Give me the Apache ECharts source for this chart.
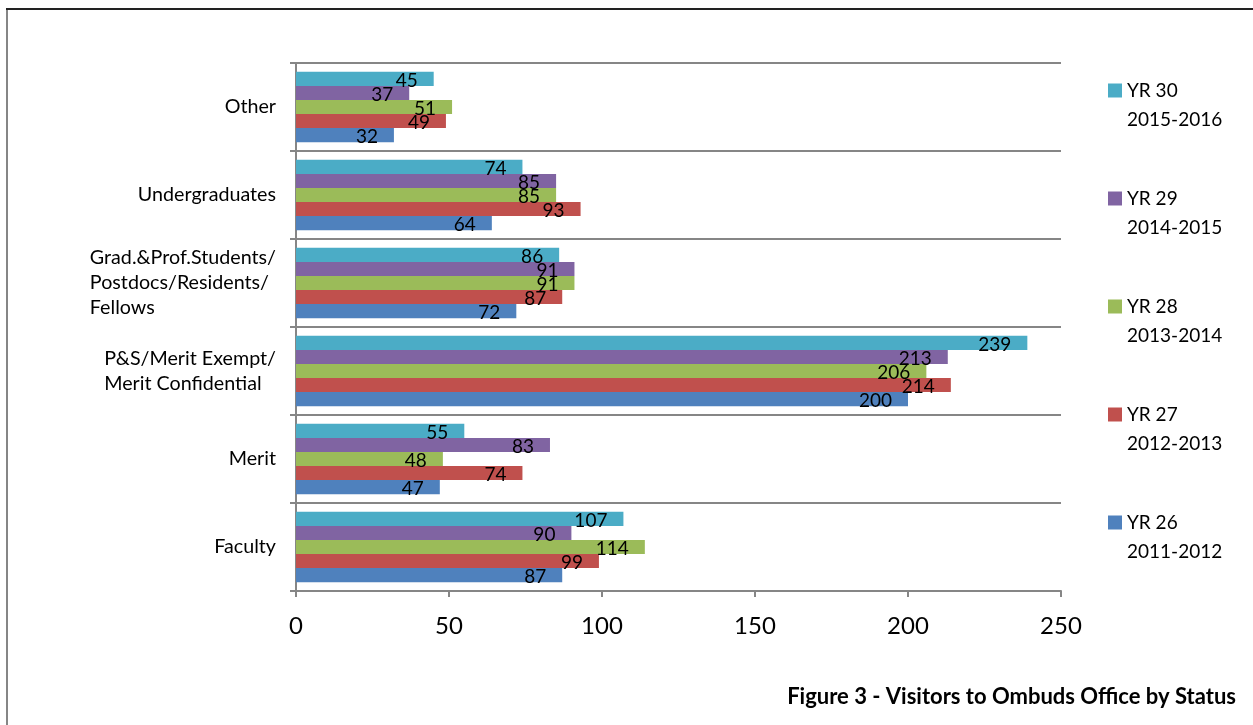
<!DOCTYPE html>
<html>
<head>
<meta charset="utf-8">
<script src="https://cdn.jsdelivr.net/npm/echarts@6/dist/echarts.min.js"></script>
<style>
html,body{margin:0;padding:0;background:#fff;}
#chart{width:1253px;height:725px;}
</style>
</head>
<body>
<div id="chart"></div>
<script>
// Categories from bottom to top
const categories = ['Faculty', 'Merit', 'P&S/Merit Exempt/\nMerit Confidential', 'Grad.&Prof.Students/\nPostdocs/Residents/\nFellows', 'Undergraduates', 'Other'];
// Series listed top-of-group first
const seriesNames = ['YR 30\n2015-2016', 'YR 29\n2014-2015', 'YR 28\n2013-2014', 'YR 27\n2012-2013', 'YR 26\n2011-2012'];
const yr30 = [107, 55, 239, 86, 74, 45];
const yr29 = [90, 83, 213, 91, 85, 37];
const yr28 = [114, 48, 206, 91, 85, 51];
const yr27 = [99, 74, 214, 87, 93, 49];
const yr26 = [87, 47, 200, 72, 64, 32];
const xTicks = [0, 50, 100, 150, 200, 250];
const colors = ['#4BACC6', '#8064A2', '#9BBB59', '#C0504D', '#4F81BD'];
const titleText = 'Figure 3 - Visitors to Ombuds Office by Status';

const FONT = 'Lato';
const values = [yr30, yr29, yr28, yr27, yr26];

const chart = echarts.init(document.getElementById('chart'));
const option = {
  animation: false,
  textStyle: { fontFamily: FONT },
  title: {
    text: titleText,
    right: 12,
    top: 681,
    textStyle: { fontFamily: FONT, fontSize: 22, fontWeight: 'bold', color: '#000' }
  },
  graphic: [
    { type: 'line', shape: { x1: 7, y1: 9, x2: 7, y2: 725 }, style: { stroke: '#868686', lineWidth: 2 } },
    { type: 'line', shape: { x1: 6, y1: 9, x2: 1253, y2: 9 }, style: { stroke: '#222', lineWidth: 2 } }
  ],
  legend: {
    orient: 'vertical',
    left: 1108,
    top: 47,
    padding: 0,
    itemWidth: 14,
    itemHeight: 14,
    itemGap: 21,
    icon: 'rect',
    data: seriesNames,
    formatter: name => '\n' + name,
    textStyle: { fontFamily: FONT, fontSize: 19, color: '#000', lineHeight: 29 }
  },
  grid: { left: 296, right: 192, top: 63, bottom: 134, containLabel: false },
  xAxis: {
    type: 'value',
    min: xTicks[0],
    max: xTicks[xTicks.length - 1],
    interval: xTicks[1] - xTicks[0],
    axisLine: { show: true, lineStyle: { color: '#868686', width: 2 } },
    axisTick: { show: true, length: 6, lineStyle: { color: '#868686', width: 2 } },
    splitLine: { show: false },
    axisLabel: { fontFamily: FONT, fontSize: 24, color: '#000', margin: 23 }
  },
  yAxis: {
    type: 'category',
    data: categories,
    axisLine: { show: true, lineStyle: { color: '#868686', width: 2 } },
    axisTick: { show: true, length: 6, alignWithLabel: false, lineStyle: { color: '#868686', width: 2 } },
    splitLine: { show: true, lineStyle: { color: '#868686', width: 2 } },
    axisLabel: {
      fontFamily: FONT, fontSize: 19.7, color: '#000', margin: 20, lineHeight: 25,
      formatter: v => v.indexOf('\n') >= 0 ? v.split('\n').map(s => '{l|' + s + '}').join('\n') : v,
      rich: { l: { align: 'left', fontFamily: FONT, fontSize: 19.7, color: '#000', lineHeight: 25 } }
    }
  },
  series: seriesNames.map((name, i) => ({
    name: name,
    type: 'bar',
    data: values[i],
    barGap: '0%',
    barCategoryGap: '20%',
    itemStyle: { color: colors[i] },
    label: {
      show: true,
      position: 'insideRight',
      distance: 16,
      offset: [0, 2],
      fontFamily: FONT,
      fontSize: 19,
      color: '#000'
    }
  }))
};
chart.setOption(option);
</script>
</body>
</html>
